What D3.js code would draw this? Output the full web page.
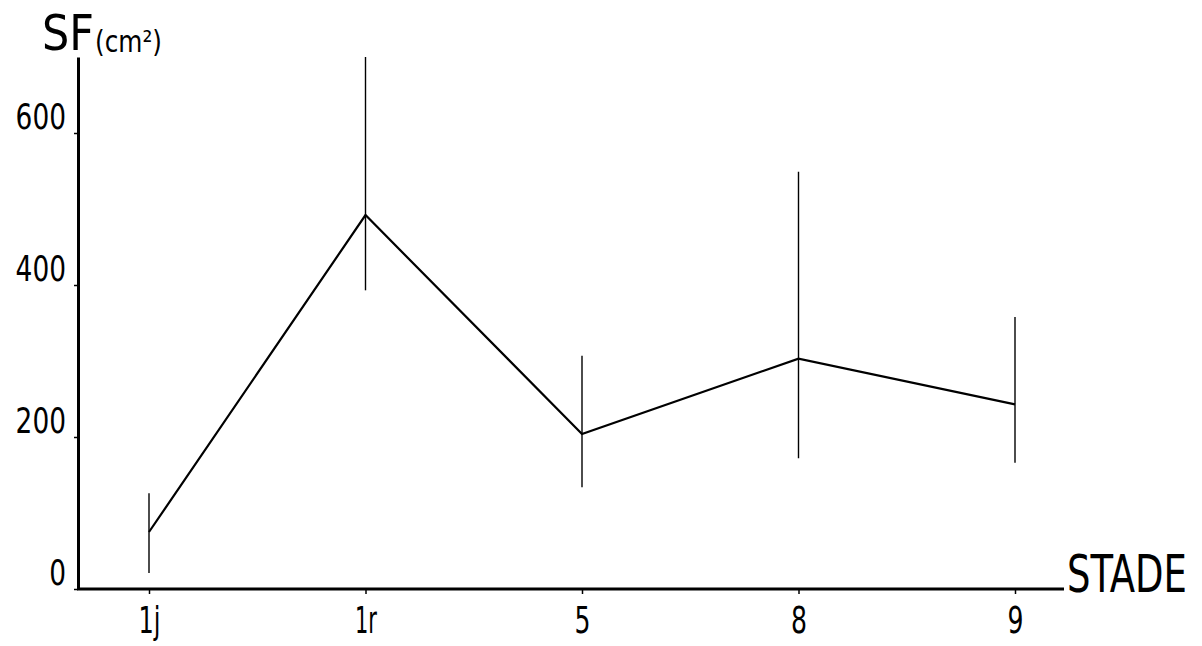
<!DOCTYPE html>
<html><head><meta charset="utf-8">
<script src="https://cdn.jsdelivr.net/npm/d3@7"></script>
<style>
html,body{margin:0;padding:0;background:#fff;}
svg{display:block;}
text{font-family:"DejaVu Sans Condensed","DejaVu Sans",sans-serif;font-stretch:condensed;fill:#000;}
</style></head>
<body>
<svg id="chart" width="1202" height="646"></svg>
<script>
const stades = ["1j", "1r", "5", "8", "9"];
const sfMean = [75, 492, 204, 303, 243];
const sfLow = [21, 393, 134, 172, 166];
const sfHigh = [126, 700, 307, 549, 358];
const yTicks = [0, 200, 400, 600];

const svg = d3.select("#chart");
const x = d3.scalePoint().domain(stades).range([149, 1015]);
const y = d3.scaleLinear().domain([0, 700]).range([589, 57]);
const axisX0 = 77, axisX1 = 1064;

// y axis
const gy = svg.append("g").attr("transform", "translate(78,0)")
  .call(d3.axisLeft(y).tickValues(yTicks).tickSize(4).tickSizeOuter(0).tickFormat(d3.format("d")));
gy.select(".domain").attr("stroke", "#000").attr("stroke-width", 3);
gy.selectAll(".tick line").attr("stroke", "#000").attr("stroke-width", 1.5);
gy.selectAll(".tick text").attr("x", -12).attr("dy", "-5")
  .attr("font-size", 36).attr("font-family", null)
  .attr("textLength", d => String(d).length * 16.8).attr("lengthAdjust", "spacingAndGlyphs");

// x axis
const gx = svg.append("g").attr("transform", "translate(0,589)")
  .call(d3.axisBottom(x).tickSize(5).tickSizeOuter(0));
gx.select(".domain").remove();
gx.append("line").attr("x1", axisX0).attr("x2", axisX1).attr("y1", 0).attr("y2", 0)
  .attr("stroke", "#000").attr("stroke-width", 3);
gx.selectAll(".tick line").attr("stroke", "#000").attr("stroke-width", 1.5);
gx.selectAll(".tick text").attr("y", 44).attr("dy", 0)
  .attr("font-size", 38).attr("font-family", null)
  .attr("textLength", d => d.length === 1 ? 16 : 22).attr("lengthAdjust", "spacingAndGlyphs");

// error bars
svg.append("g").selectAll("line").data(stades).join("line")
  .attr("x1", d => x(d)).attr("x2", d => x(d))
  .attr("y1", (d, i) => y(sfHigh[i])).attr("y2", (d, i) => y(sfLow[i]))
  .attr("stroke", "#000").attr("stroke-width", 1.4);

// mean line
const line = d3.line().x((d, i) => x(stades[i])).y(d => y(d));
svg.append("path").datum(sfMean).attr("d", line)
  .attr("fill", "none").attr("stroke", "#000").attr("stroke-width", 2.2).attr("stroke-linejoin", "miter");

// titles, horizontally scaled to the reference widths
function fitText(px, py, size, width, str) {
  const g = svg.append("g");
  const t = g.append("text").attr("font-size", size).text(str);
  const w = t.node().getComputedTextLength() || width;
  g.attr("transform", `translate(${px},${py}) scale(${width / w},1)`);
  return t;
}
fitText(42, 50, 49, 52, "SF");
fitText(95, 52, 30, 67, "(cm²)");
fitText(1067, 592, 51, 120, "STADE");
</script>
</body></html>
